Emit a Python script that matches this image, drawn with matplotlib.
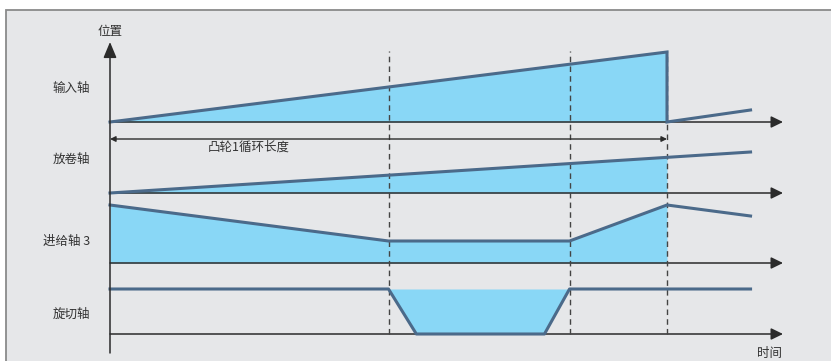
import numpy as np
import matplotlib
matplotlib.use("Agg")
import matplotlib.pyplot as plt
from matplotlib.patches import Rectangle

plt.rcParams['font.family'] = ['Noto Sans CJK SC', 'DejaVu Sans']

# Channel labels
lanes = ["输入轴", "放卷轴", "进给轴 3", "旋切轴"]

# Input axis (time, height above its baseline)
t_in = [0, 100, 100, 115]
h_in = [0, 70, 0, 12]

# Unwind axis
t_unw = [0, 115]
h_unw = [0, 41]

# Feed axis 3
t_feed = [0, 50, 82.5, 100, 115]
h_feed = [58, 22, 22, 58, 47]

# Rotary cutter axis
t_rot = [0, 50, 55, 78, 82.5, 115]
h_rot = [45, 45, 0, 0, 45, 45]

# Phase markers (dashed lines) and cycle length
marks = [50, 82.5, 100]
cycle = 100

W, H = 831, 361
PX_PER_T = 5.57
X0 = 110

fill_c = '#89d7f6'
line_c = '#4b6a8a'
axis_c = '#2b2b2b'
text_c = '#333333'

fig = plt.figure(figsize=(W / 100, H / 100), dpi=100)
fig.patch.set_facecolor('white')

ax = fig.add_axes([0, 0, 1, 1])
ax.set_xlim(-X0 / PX_PER_T, (W - X0) / PX_PER_T)
ax.set_ylim(0, H)
ax.axis('off')

# framed grey panel
ax.add_patch(Rectangle((6 / W, -0.1), 1.0, (H - 10) / H + 0.1,
                       transform=fig.transFigure, facecolor='#e6e7e9',
                       edgecolor='#8a8a8a', lw=1.3, zorder=0, clip_on=False))

# lane baselines (in pixel rows from the top)
base = [H - 122, H - 193, H - 263, H - 334]
t_end = (783 - X0) / PX_PER_T

# input
b = base[0]
ax.fill_between(t_in[:2], b, [b + v for v in h_in[:2]], color=fill_c, lw=0, zorder=2)
ax.plot(t_in, [b + v for v in h_in], color=line_c, lw=2.2, zorder=4, solid_joinstyle='miter')

# unwind
b = base[1]
tu = [0, cycle]
ax.fill_between(tu, b, b + np.interp(tu, t_unw, h_unw), color=fill_c, lw=0, zorder=2)
ax.plot(t_unw, [b + v for v in h_unw], color=line_c, lw=2.2, zorder=4)

# feed
b = base[2]
ax.fill_between(t_feed[:4], b, [b + v for v in h_feed[:4]], color=fill_c, lw=0, zorder=2)
ax.plot(t_feed, [b + v for v in h_feed], color=line_c, lw=2.2, zorder=4)

# rotary cutter
b = base[3]
top = max(h_rot)
ax.fill_between(t_rot[1:5], [b + v for v in h_rot[1:5]], b + top, color=fill_c, lw=0, zorder=2)
ax.plot(t_rot, [b + v for v in h_rot], color=line_c, lw=2.2, zorder=4)

# time axes with arrows
for b in base:
    ax.annotate('', xy=(t_end, b), xytext=(0, b),
                arrowprops=dict(arrowstyle='-|>,head_length=0.45,head_width=0.22',
                                mutation_scale=16, color=axis_c,
                                lw=1.1, shrinkA=0, shrinkB=0), zorder=3)

# position axis
ax.annotate('', xy=(0, H - 42), xytext=(0, H - 353),
            arrowprops=dict(arrowstyle='-|>,head_length=0.6,head_width=0.25',
                            mutation_scale=16, color=axis_c,
                            lw=1.1, shrinkA=0, shrinkB=0), zorder=5)

# dashed phase lines
for m in marks:
    ax.plot([m, m], [H - 334, H - 51], color='#444444', lw=1.0,
            ls=(0, (4, 3)), zorder=3)

# cycle length dimension
ax.annotate('', xy=(cycle, H - 139), xytext=(0, H - 139),
            arrowprops=dict(arrowstyle='<|-|>', mutation_scale=8, color=axis_c,
                            lw=1.0, shrinkA=0, shrinkB=0), zorder=3)
fig.text(249 / W, 1 - 147 / H, "凸轮1循环长度", fontsize=9, color=text_c,
         ha='center', va='center')

# labels
for lab, py in zip(lanes, [88, 159, 241, 314]):
    fig.text(90 / W, 1 - py / H, lab, fontsize=9, color=text_c,
             ha='right', va='center')
fig.text(110 / W, 1 - 32 / H, "位置", fontsize=9, color=text_c, ha='center', va='center')
fig.text(770 / W, 1 - 353 / H, "时间", fontsize=9, color=text_c, ha='center', va='center')

fig.savefig("out.png", dpi=100)
